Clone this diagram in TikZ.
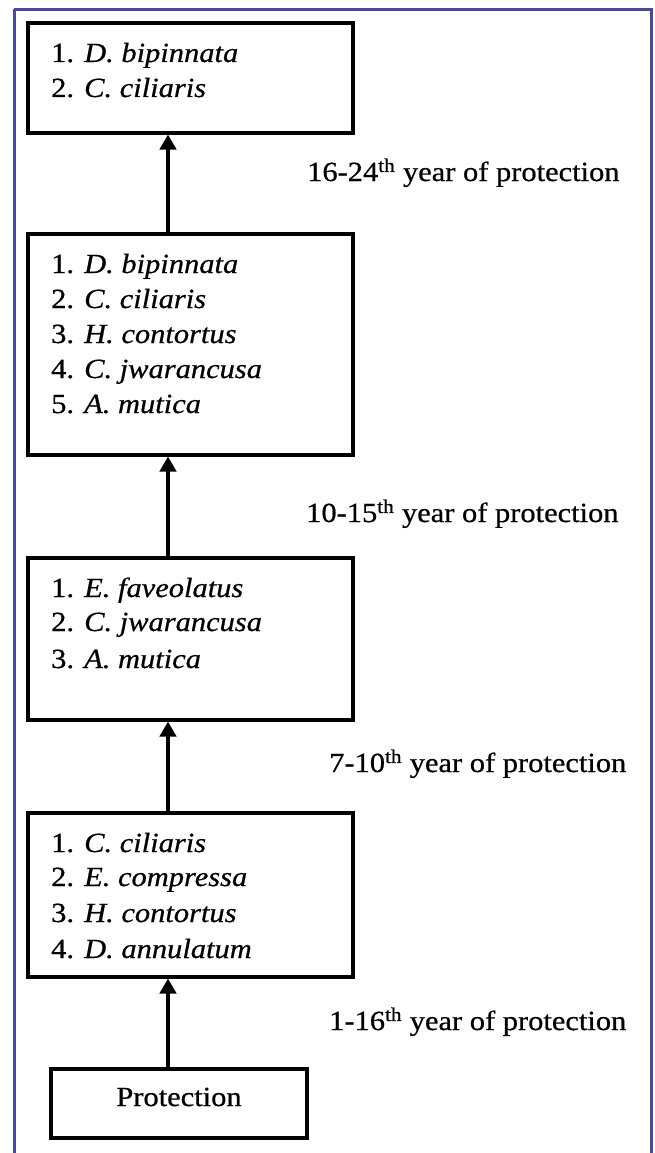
\documentclass[tikz,border=0pt]{standalone}
\usepackage{fontspec}
\setmainfont{Liberation Serif}[FakeStretch=1.1,FakeBold=0.6]
\usetikzlibrary{arrows.meta}
\definecolor{framecol}{HTML}{4A4A9C}
\begin{document}
\begin{tikzpicture}[x=1pt,y=-1pt,
  stagebox/.style={draw=black,line width=3.2pt,inner sep=0pt},
  item/.style={anchor=base west,inner sep=0pt,font=\fontsize{27.7}{35}\selectfont},
  yearlab/.style={anchor=base west,inner sep=0pt,font=\fontsize{27.7}{35}\selectfont},
  uparrow/.style={line width=3.2pt,-{Triangle[length=15pt,width=16.5pt]}}]
\useasboundingbox (0,0) rectangle (654,1153);
\fill[white] (0,0) rectangle (654,1153);
\draw[framecol,line width=3pt] (14,9.5) -- (651,9.5) -- (651,1170) (14,9.5) -- (14,1170);
% boxes
\node[stagebox,minimum width=325pt,minimum height=110pt] (b1) at (190.5,78) {};
\node[stagebox,minimum width=325pt,minimum height=221pt] (b2) at (190.5,344.5) {};
\node[stagebox,minimum width=325pt,minimum height=162pt] (b3) at (190.5,639) {};
\node[stagebox,minimum width=325pt,minimum height=164pt] (b4) at (190.5,895) {};
\node[stagebox,minimum width=256pt,minimum height=69pt] (b5) at (179,1103.5) {};
% box texts
\node[item] (t11) at (51,62) {1. \textit{D. bipinnata}};
\node[item] (t12) at (51,97) {2. \textit{C. ciliaris}};
\node[item] (t21) at (51,273) {1. \textit{D. bipinnata}};
\node[item] (t22) at (51,308) {2. \textit{C. ciliaris}};
\node[item] (t23) at (51,343) {3. \textit{H. contortus}};
\node[item] (t24) at (51,378) {4. \textit{C. jwarancusa}};
\node[item] (t25) at (51,413) {5. \textit{A. mutica}};
\node[item] (t31) at (51,597) {1. \textit{E. faveolatus}};
\node[item] (t32) at (51,631) {2. \textit{C. jwarancusa}};
\node[item] (t33) at (51,668) {3. \textit{A. mutica}};
\node[item] (t41) at (51,852) {1. \textit{C. ciliaris}};
\node[item] (t42) at (51,886) {2. \textit{E. compressa}};
\node[item] (t43) at (51,922) {3. \textit{H. contortus}};
\node[item] (t44) at (51,958) {4. \textit{D. annulatum}};
\node[anchor=base,inner sep=0pt,font=\fontsize{27.7}{35}\selectfont] (t51) at (179,1106) {Protection};
% year labels
\node[yearlab] (y1) at (307,181) {16-24\textsuperscript{th} year of protection};
\node[yearlab] (y2) at (306,522) {10-15\textsuperscript{th} year of protection};
\node[yearlab] (y3) at (329,772) {7-10\textsuperscript{th} year of protection};
\node[yearlab] (y4) at (329,1030) {1-16\textsuperscript{th} year of protection};
% arrows
\draw[uparrow] (b2.north -| 168,0) -- (b1.south -| 168,0);
\draw[uparrow] (b3.north -| 168,0) -- (b2.south -| 168,0);
\draw[uparrow] (b4.north -| 168,0) -- (b3.south -| 168,0);
\draw[uparrow] (b5.north -| 168,0) -- (b4.south -| 168,0);
\end{tikzpicture}
\end{document}
